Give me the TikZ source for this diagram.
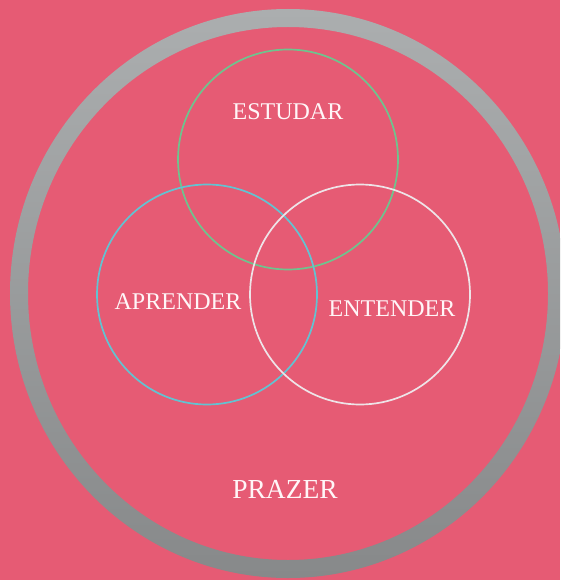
\documentclass[tikz,border=0pt]{standalone}
\usepackage{fontspec}
\setmainfont{Liberation Serif}
\usepackage{tikz}
\definecolor{fundo}{HTML}{E65B74}
\definecolor{anelcima}{HTML}{ABAEAF}
\definecolor{anelbaixo}{HTML}{87898A}
\definecolor{verde}{HTML}{6EC48E}
\definecolor{azul}{HTML}{62C3D2}
\definecolor{branco}{HTML}{EEE4E8}
\definecolor{texto}{HTML}{FFF6F8}
\tikzset{
  venn/.style={circle, draw, line width=1.7pt, minimum size=220pt, inner sep=0pt},
  rotulo/.style={text=texto, anchor=base, font=\fontsize{24}{24}\selectfont}
}

\begin{document}
\begin{tikzpicture}[x=1pt, y=-1pt]
    % Background and frame
    \clip (0,0) rectangle (560,580);
    \fill[fundo] (0,0) rectangle (560,580);
    \shade[top color=anelcima, bottom color=anelbaixo, even odd rule]
        (288,293.5) ellipse [x radius=278, y radius=284.5]
        (288,293.5) ellipse [x radius=260, y radius=266.5];

    % Define nodes
    \node[venn, draw=verde] (estudar) at (288,159.5) {};
    \node[venn, draw=azul] (aprender) at (207,294.5) {};
    \node[venn, draw=branco] (entender) at (360,294.5) {};

    % Labels
    \node[rotulo] (lestudar) at (288,120) {ESTUDAR};
    \node[rotulo] (laprender) at (178,309) {APRENDER};
    \node[rotulo] (lentender) at (392,316) {ENTENDER};
    \node[rotulo, font=\fontsize{27.5}{27.5}\selectfont] (lprazer) at (285,498) {PRAZER};
\end{tikzpicture}
\end{document}
